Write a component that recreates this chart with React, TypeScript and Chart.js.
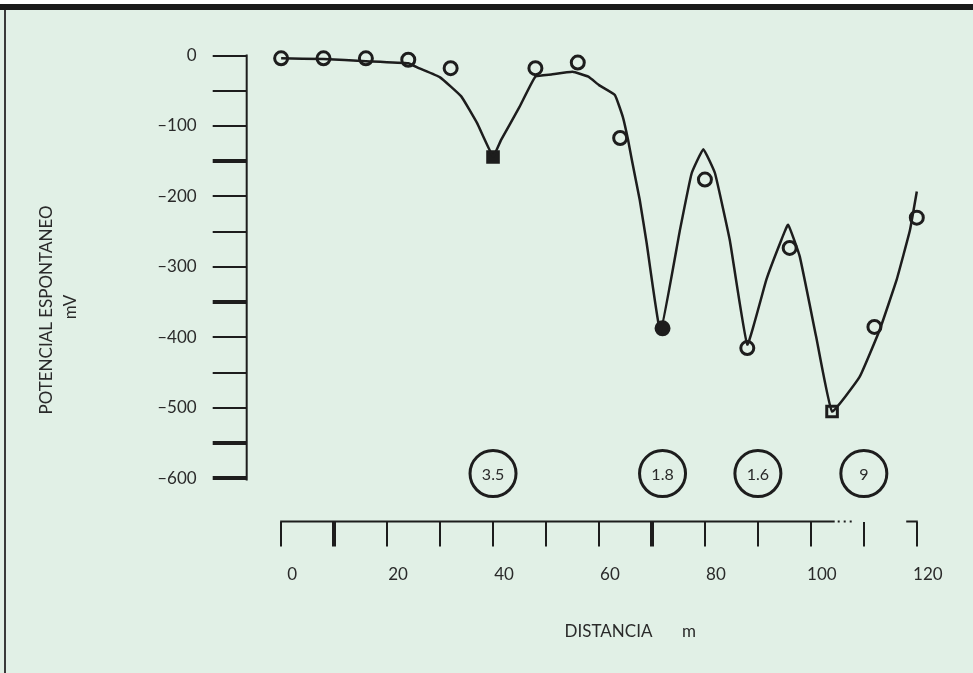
import React, { useEffect, useRef } from 'react';
import { Chart, registerables } from 'chart.js';

Chart.register(...registerables);

// Measured points (distance m, potential mV)
const distances = [0, 8, 16, 24, 32, 40, 48, 56, 64, 72, 80, 88, 96, 104, 112, 120];
const potentials = [-4, -4, -4, -6, -18, -144, -18, -10, -117, -387, -176, -415, -273, -505, -385, -230];
const pointStyles = ['circle', 'circle', 'circle', 'circle', 'circle', 'rect', 'circle', 'circle', 'circle', 'circle', 'circle', 'circle', 'circle', 'rect', 'circle', 'circle'];
const pointFilled = [false, false, false, false, false, true, false, false, false, true, false, false, false, false, false, false];

// Interpreted curve drawn through the profile
const curveX = [0, 8, 16, 24, 26, 30, 34, 37, 40, 41.5, 45, 48, 51, 55, 58, 60, 63, 64.5, 65.5, 66.2, 67.7, 69, 71.6, 75.3, 77.5, 79.7, 81.9, 84.7, 88, 91.6, 94.2, 95.7, 97.9, 101, 104, 109.2, 113, 116.2, 118.7, 120];
const curveY = [-4, -5, -8, -11, -18, -31, -58, -96, -143, -120, -73, -30, -27, -23, -30, -42, -56, -87, -120, -148, -205, -266, -392, -247, -167, -133, -167, -262, -410, -318, -266, -240, -285, -399, -505, -456, -389, -318, -248, -193];

// Circled resistivity annotations
const resX = [40, 72, 90, 110];
const resY = [-593, -593, -593, -593];
const resLabels = ['3.5', '1.8', '1.6', '9'];

// Axes
const yTickValues = [0, -50, -100, -150, -200, -250, -300, -350, -400, -450, -500, -550, -600];
const yThickTicks = [-150, -350, -550, -600];
const xTickValues = [0, 10, 20, 30, 40, 50, 60, 70, 80, 90, 100, 110, 120];
const xThickTicks = [10, 70];
const yTitle = 'POTENCIAL ESPONTANEO';
const yUnit = 'mV';
const xTitle = 'DISTANCIA';
const xUnit = 'm';

const FONT = "Lato, 'Open Sans', 'DejaVu Sans', sans-serif";
const INK = '#1d1d1d';
const TEXT = '#2a2a2a';
const BG = '#e1f0e6';

const backgroundPlugin = {
  id: 'bgFrame',
  beforeDraw(chart: any) {
    const { ctx, width, height } = chart;
    ctx.save();
    ctx.fillStyle = BG;
    ctx.fillRect(0, 0, width, height);
    ctx.fillStyle = '#ffffff';
    ctx.fillRect(0, 0, width, 4);
    ctx.fillStyle = '#1a1a1a';
    ctx.fillRect(0, 4, width, 6);
    ctx.fillStyle = '#3a3a3a';
    ctx.fillRect(4, 10, 2, height - 10);
    ctx.restore();
  },
};

const axisLinesPlugin = {
  id: 'axisLines',
  afterDraw(chart: any) {
    const { ctx, chartArea, scales } = chart;
    const x = scales.x;
    const y = scales.y;
    ctx.save();
    ctx.strokeStyle = INK;
    ctx.lineWidth = 2;
    // vertical axis line 0 .. -600
    ctx.beginPath();
    ctx.moveTo(chartArea.left, y.getPixelForValue(0) - 1);
    ctx.lineTo(chartArea.left, y.getPixelForValue(-600) + 2);
    ctx.stroke();
    // horizontal axis line
    const b = chartArea.bottom;
    ctx.beginPath();
    ctx.moveTo(x.getPixelForValue(0) - 1, b);
    ctx.lineTo(x.getPixelForValue(104.5), b);
    ctx.stroke();
    ctx.setLineDash([2, 4]);
    ctx.beginPath();
    ctx.moveTo(x.getPixelForValue(104.5) + 3, b);
    ctx.lineTo(x.getPixelForValue(108), b);
    ctx.stroke();
    ctx.setLineDash([]);
    ctx.beginPath();
    ctx.moveTo(x.getPixelForValue(118), b);
    ctx.lineTo(x.getPixelForValue(120) + 1, b);
    ctx.stroke();

    // titles
    ctx.fillStyle = TEXT;
    ctx.font = `17px ${FONT}`;
    ctx.textAlign = 'center';
    ctx.textBaseline = 'middle';
    const midY = (y.getPixelForValue(0) + y.getPixelForValue(-600)) / 2;
    ctx.save();
    ctx.translate(47, midY + 43);
    ctx.rotate(-Math.PI / 2);
    ctx.fillText(yTitle, 0, 0);
    ctx.restore();
    ctx.save();
    ctx.translate(71, midY + 40);
    ctx.rotate(-Math.PI / 2);
    ctx.fillText(yUnit, 0, 0);
    ctx.restore();
    ctx.textAlign = 'left';
    ctx.fillText(xTitle, x.getPixelForValue(53.5), b + 110);
    ctx.textAlign = 'center';
    ctx.fillText(xUnit, x.getPixelForValue(77), b + 110);
    ctx.restore();
  },
};

const resLabelPlugin = {
  id: 'resLabels',
  afterDatasetsDraw(chart: any) {
    const { ctx } = chart;
    const meta = chart.getDatasetMeta(2);
    ctx.save();
    ctx.fillStyle = TEXT;
    ctx.font = `16px ${FONT}`;
    ctx.textAlign = 'center';
    ctx.textBaseline = 'middle';
    meta.data.forEach((el: any, i: number) => {
      ctx.fillText(resLabels[i], el.x, el.y + 1);
    });
    ctx.restore();
  },
};

export default function App() {
  const ref = useRef<HTMLCanvasElement>(null);

  useEffect(() => {
    document.body.style.margin = '0';
    const canvas = ref.current!;
    const chart = new Chart(canvas, {
      type: 'scatter',
      data: {
        datasets: [
          {
            label: 'curva',
            data: curveX.map((v, i) => ({ x: v, y: curveY[i] })),
            showLine: true,
            borderColor: INK,
            borderWidth: 2.5,
            pointRadius: 0,
            tension: 0.1,
            clip: false as any,
          },
          {
            label: 'medidas',
            data: distances.map((v, i) => ({ x: v, y: potentials[i] })),
            showLine: false,
            pointStyle: pointStyles as any,
            pointRadius: pointStyles.map((s) => (s === 'rect' ? 7.5 : 6.5)),
            pointBorderWidth: 3,
            pointBorderColor: INK,
            pointBackgroundColor: pointFilled.map((f) => (f ? INK : 'rgba(0,0,0,0)')),
            clip: false as any,
          },
          {
            label: 'resistividad',
            data: resX.map((v, i) => ({ x: v, y: resY[i] })),
            showLine: false,
            pointStyle: 'circle',
            pointRadius: 23,
            pointBorderWidth: 3,
            pointBorderColor: INK,
            pointBackgroundColor: 'rgba(0,0,0,0)',
            clip: false as any,
          },
        ],
      },
      options: {
        responsive: false,
        animation: false,
        devicePixelRatio: 1,
        layout: { padding: { left: 0, top: 55.5, right: 35, bottom: 0 } },
        plugins: {
          legend: { display: false },
          tooltip: { enabled: false },
          title: { display: false },
        },
        scales: {
          x: {
            type: 'linear',
            min: -6.5,
            max: 124,
            afterBuildTicks: (s: any) => {
              s.ticks = xTickValues.map((v) => ({ value: v }));
            },
            afterFit: (s: any) => {
              s.height = 673 - 521.5;
            },
            border: { display: false },
            grid: {
              drawOnChartArea: false,
              drawTicks: true,
              tickLength: 25,
              color: INK,
              tickColor: INK,
              lineWidth: (c: any) => (c.tick && xThickTicks.includes(c.tick.value) ? 4 : 2),
              tickWidth: (c: any) => (c.tick && xThickTicks.includes(c.tick.value) ? 4 : 2),
            },
            ticks: {
              autoSkip: false,
              maxRotation: 0,
              labelOffset: 11,
              padding: 18,
              color: TEXT,
              font: { family: FONT, size: 17 },
              callback: (v: any) => (Number(v) % 20 === 0 ? String(v) : ''),
            },
          },
          y: {
            type: 'linear',
            min: -661,
            max: 0,
            afterBuildTicks: (s: any) => {
              s.ticks = yTickValues.map((v) => ({ value: v }));
            },
            afterFit: (s: any) => {
              s.width = 246.7;
            },
            border: { display: false },
            grid: {
              drawOnChartArea: false,
              drawTicks: true,
              tickLength: 34,
              color: INK,
              tickColor: INK,
              lineWidth: (c: any) => (c.tick && yThickTicks.includes(c.tick.value) ? 4 : 2),
              tickWidth: (c: any) => (c.tick && yThickTicks.includes(c.tick.value) ? 4 : 2),
            },
            ticks: {
              autoSkip: false,
              padding: 16,
              color: TEXT,
              font: { family: FONT, size: 17 },
              callback: (v: any) => {
                const n = Number(v);
                if (n % 100 !== 0) return '';
                return n === 0 ? '0' : '\u2013' + Math.abs(n);
              },
            },
          },
        },
      },
      plugins: [backgroundPlugin, axisLinesPlugin, resLabelPlugin],
    });
    return () => chart.destroy();
  }, []);

  return (
    <div style={{ position: 'fixed', left: 0, top: 0, width: 973, height: 673 }}>
      <canvas ref={ref} width={973} height={673} style={{ display: 'block', width: 973, height: 673 }} />
    </div>
  );
}
